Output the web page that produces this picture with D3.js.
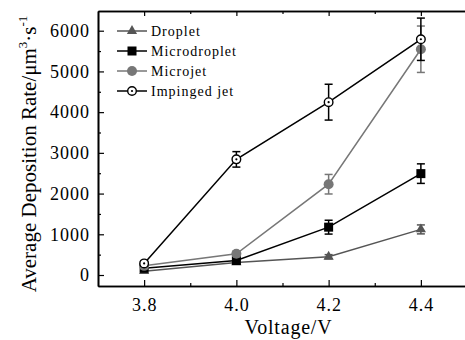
<!DOCTYPE html>
<html><head><meta charset="utf-8">
<script src="https://cdn.jsdelivr.net/npm/d3@7"></script>
<style>html,body{margin:0;padding:0;background:#fff;overflow:hidden}
svg text{font-family:"Liberation Serif","Times New Roman",Times,serif;}</style>
</head><body>
<svg id="c" width="465" height="340"></svg>
<script>
const voltages = [3.8, 4.0, 4.2, 4.4];
const xTicks = [3.8, 4.0, 4.2, 4.4];
const xMinor = [3.9, 4.1, 4.3];
const yTicks = [0, 1000, 2000, 3000, 4000, 5000, 6000];
const yMinor = [500, 1500, 2500, 3500, 4500, 5500];
const seriesNames = ["Droplet", "Microdroplet", "Microjet", "Impinged jet"];
const droplet = [95, 310, 450, 1120];
const dropletErr = [40, 40, 50, 110];
const microdroplet = [165, 355, 1175, 2490];
const microdropletErr = [50, 50, 170, 240];
const microjet = [225, 520, 2230, 5545];
const microjetErr = [50, 60, 240, 570];
const impinged = [285, 2840, 4245, 5790];
const impingedErr = [60, 190, 440, 520];

const series = [
  {name: seriesNames[0], vals: droplet, err: dropletErr, color: "#555", marker: "tri"},
  {name: seriesNames[1], vals: microdroplet, err: microdropletErr, color: "#000", marker: "sq"},
  {name: seriesNames[2], vals: microjet, err: microjetErr, color: "#777", marker: "circ"},
  {name: seriesNames[3], vals: impinged, err: impingedErr, color: "#000", marker: "open"}
];

const svg = d3.select("#c");
const L = 98, R = 467, T = 11, B = 286;
const x = d3.scaleLinear().domain([3.7, 4.5]).range([L, R]);
const y = d3.scaleLinear().domain([-270, 6484]).range([B, T]);

const axB = svg.append("g").attr("transform", `translate(0,${B})`)
  .call(d3.axisBottom(x).tickValues(xTicks).tickFormat(d3.format(".1f")).tickSizeInner(-6).tickSizeOuter(0).tickPadding(12));
const axBm = svg.append("g").attr("transform", `translate(0,${B})`)
  .call(d3.axisBottom(x).tickValues(xMinor).tickFormat("").tickSizeInner(-3).tickSizeOuter(0));
const axT = svg.append("g").attr("transform", `translate(0,${T})`)
  .call(d3.axisTop(x).tickValues(xTicks).tickFormat("").tickSizeInner(-5).tickSizeOuter(0));
const axTm = svg.append("g").attr("transform", `translate(0,${T})`)
  .call(d3.axisTop(x).tickValues(xMinor).tickFormat("").tickSizeInner(-3).tickSizeOuter(0));
const axL = svg.append("g").attr("transform", `translate(${L},0)`)
  .call(d3.axisLeft(y).tickValues(yTicks).tickFormat(d3.format("d")).tickSizeInner(-6).tickSizeOuter(0).tickPadding(8));
const axLm = svg.append("g").attr("transform", `translate(${L},0)`)
  .call(d3.axisLeft(y).tickValues(yMinor).tickFormat("").tickSizeInner(-3).tickSizeOuter(0));
[axB, axBm, axT, axTm, axL, axLm].forEach(a => {
  a.attr("font-family", null);
  a.selectAll("path.domain").attr("stroke", "#000").attr("stroke-width", 1.6);
  a.selectAll("line").attr("stroke", "#000").attr("stroke-width", 1.2);
  a.selectAll("text").attr("font-size", 18).attr("fill", "#000").attr("letter-spacing", 1);
});

svg.append("text").attr("x", (L + R) / 2 + 6).attr("y", 334).attr("text-anchor", "middle")
  .attr("font-size", 20).attr("letter-spacing", 0.8).text("Voltage/V");
const yt = svg.append("text").attr("transform", "translate(36,154) rotate(-90)").attr("text-anchor", "middle")
  .attr("font-size", 21).attr("letter-spacing", 0);
yt.append("tspan").text("Average Deposition Rate/μm");
yt.append("tspan").attr("font-size", 13).attr("dy", -9).text("3");
yt.append("tspan").attr("font-size", 21).attr("dy", 9).text("·s");
yt.append("tspan").attr("font-size", 13).attr("dy", -9).text("-1");

function marker(g, type, color, cx, cy) {
  if (type === "tri") {
    g.append("path").attr("d", d3.symbol(d3.symbolTriangle, 45)()).attr("transform", `translate(${cx},${cy})`).attr("fill", color);
  } else if (type === "sq") {
    g.append("rect").attr("x", cx - 4.5).attr("y", cy - 4.5).attr("width", 9).attr("height", 9).attr("fill", color);
  } else if (type === "circ") {
    g.append("circle").attr("cx", cx).attr("cy", cy).attr("r", 5).attr("fill", color);
  } else {
    g.append("circle").attr("cx", cx).attr("cy", cy).attr("r", 4.3).attr("fill", "#fff").attr("stroke", color).attr("stroke-width", 1.4);
    g.append("circle").attr("cx", cx).attr("cy", cy).attr("r", 1.1).attr("fill", color);
  }
}

const line = d3.line().x(d => x(d[0])).y(d => y(d[1]));
series.forEach(s => {
  const g = svg.append("g");
  const pts = voltages.map((v, i) => [v, s.vals[i], s.err[i]]);
  g.append("path").attr("d", line(pts)).attr("fill", "none").attr("stroke", s.color).attr("stroke-width", 1.5);
  pts.forEach(p => {
    const cx = x(p[0]), y1 = y(p[1] + p[2]), y2 = y(p[1] - p[2]);
    g.append("line").attr("x1", cx).attr("x2", cx).attr("y1", y1).attr("y2", y2).attr("stroke", s.color).attr("stroke-width", 1.5);
    [y1, y2].forEach(yy => g.append("line").attr("x1", cx - 4).attr("x2", cx + 4).attr("y1", yy).attr("y2", yy).attr("stroke", s.color).attr("stroke-width", 1.5));
  });
  pts.forEach(p => marker(g, s.marker, s.color, x(p[0]), y(p[1])));
});

series.forEach((s, i) => {
  const g = svg.append("g");
  const ly = 31 + i * 20;
  g.append("line").attr("x1", 117).attr("x2", 147).attr("y1", ly).attr("y2", ly).attr("stroke", s.color).attr("stroke-width", 1.5);
  marker(g, s.marker, s.color, 132, ly);
  g.append("text").attr("x", 151).attr("y", ly + 5).attr("font-size", 14)
    .attr("letter-spacing", 1).text(s.name);
});
</script>
</body></html>
